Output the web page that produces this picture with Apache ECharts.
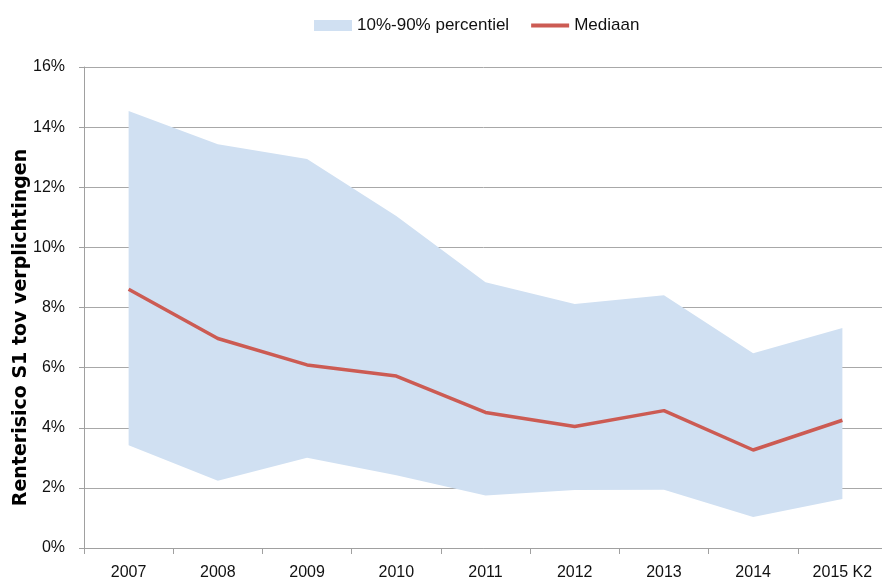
<!DOCTYPE html>
<html>
<head>
<meta charset="utf-8">
<script src="https://cdn.jsdelivr.net/npm/echarts@6/dist/echarts.min.js"></script>
<style>
  html, body { margin: 0; padding: 0; background: #fff; }
  #chart { width: 882px; height: 582px; }
</style>
</head>
<body>
<div id="chart"></div>
<script>
var years = ['2007', '2008', '2009', '2010', '2011', '2012', '2013', '2014', '2015 K2']
var p10 = [3.42, 2.24, 3.00, 2.42, 1.75, 1.93, 1.94, 1.03, 1.63]
var p90 = [14.54, 13.43, 12.94, 11.04, 8.84, 8.12, 8.41, 6.48, 7.32]
var median = [8.61, 6.97, 6.09, 5.72, 4.51, 4.04, 4.57, 3.26, 4.25]

var font = 'Liberation Sans'
var band_color = '#D0E0F2'
var red = '#CC5B53'

// the band is drawn as p10 + (p90 - p10) stacked
var spread = []
for (var i = 0; i < years.length; i++) {
    spread.push(+(p90[i] - p10[i]).toFixed(2))
}

var option = {
    animation: false,
    legend: {
        top: 12,
        left: 309,
        itemGap: 22,
        itemWidth: 38,
        itemHeight: 11,
        textStyle: { fontFamily: font, fontSize: 17, color: '#111' },
        data: [
            { name: '10%-90% percentiel', icon: 'rect', itemStyle: { color: band_color } },
            { name: 'Mediaan', icon: 'path://M0,0h40v4h-40z', itemStyle: { color: red } }
        ]
    },
    grid: { left: 84, top: 67, bottom: 34, right: -5, outerBoundsMode: 'none' },
    xAxis: {
        type: 'category',
        data: years,
        boundaryGap: true,
        axisLine: { lineStyle: { color: '#A0A0A0', width: 1 } },
        axisTick: { show: true, length: 6, lineStyle: { color: '#A0A0A0' } },
        axisLabel: { margin: 17, fontFamily: font, fontSize: 16, color: '#111', interval: 0 }
    },
    yAxis: {
        type: 'value',
        min: 0,
        max: 16,
        interval: 2,
        name: 'Renterisico S1 tov verplichtingen',
        nameLocation: 'middle',
        nameGap: 53,
        nameMoveOverlap: false,
        nameTextStyle: {
            fontFamily: 'DejaVu Sans', fontSize: 19, fontWeight: 'bold', color: '#000',
            padding: [0, 40, 0, 0]
        },
        axisLine: { show: true, lineStyle: { color: '#A0A0A0', width: 1 } },
        axisTick: { show: true, length: 5, lineStyle: { color: '#A0A0A0' } },
        axisLabel: {
            margin: 19,
            fontFamily: font, fontSize: 16, color: '#111',
            formatter: function (v) { return v + '%' }
        },
        splitLine: { lineStyle: { color: '#A8A8A8', width: 1 } }
    },
    series: [
        {
            name: 'p10',
            type: 'line',
            data: p10,
            stack: 'band',
            symbol: 'none',
            silent: true,
            lineStyle: { opacity: 0 },
            areaStyle: { opacity: 0 },
            z: 1
        },
        {
            name: '10%-90% percentiel',
            type: 'line',
            data: spread,
            stack: 'band',
            symbol: 'none',
            color: band_color,
            lineStyle: { opacity: 0, width: 0 },
            areaStyle: { color: band_color, opacity: 1 },
            z: 1
        },
        {
            name: 'Mediaan',
            type: 'line',
            data: median,
            symbol: 'none',
            color: red,
            lineStyle: { color: red, width: 3.5 },
            z: 3
        }
    ]
}

var chart = echarts.init(document.getElementById('chart'))
chart.setOption(option)
</script>
</body>
</html>
